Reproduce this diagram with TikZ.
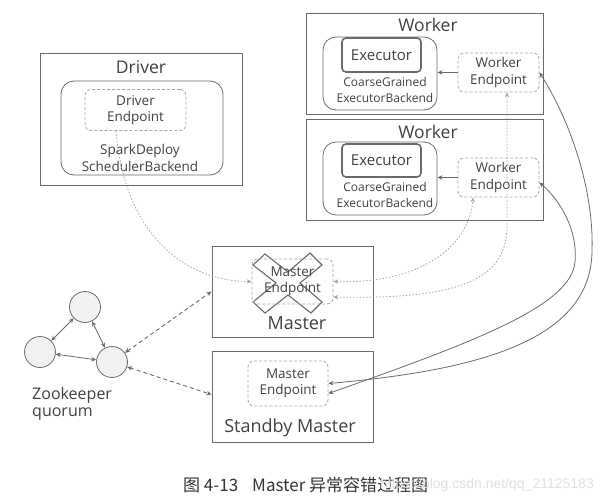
\documentclass[tikz,border=0pt]{standalone}
\usepackage{fontspec}
\setmainfont{Open Sans}
\newfontfamily\cjk{Noto Sans CJK SC}
\newfontfamily\wmfont{Liberation Sans}
\usetikzlibrary{arrows.meta}
\definecolor{ln}{HTML}{6A6A6A}
\definecolor{tx}{HTML}{404040}
\definecolor{dl}{HTML}{A6A6A6}
\newcommand\myfs[2]{\fontsize{#1}{#2}\selectfont}
\begin{document}
\begin{tikzpicture}[x=1pt,y=-1pt,
  every node/.style={text=tx, inner sep=0pt, align=center},
  outer/.style={draw=ln, line width=1pt, rectangle},
  innerr/.style={draw=ln, line width=0.8pt, rounded corners=13pt, rectangle},
  execbox/.style={draw=ln, line width=1.6pt, rounded corners=4pt, rectangle, font=\myfs{15}{18}},
  dbox/.style={draw=dl, line width=0.8pt, dash pattern=on 3pt off 2pt, rounded corners=6pt, rectangle},
  ttl/.style={font=\myfs{17.5}{20}},
  small/.style={font=\myfs{12}{16}},
  mid/.style={font=\myfs{13.5}{16.5}},
  zk/.style={circle, draw=ln, fill=gray!10, line width=0.8pt, minimum size=31pt},
  tip/.style={-{Stealth[length=5pt,width=4.5pt]}},
  dtip/.style={{Stealth[length=5pt,width=4.5pt]}-{Stealth[length=5pt,width=4.5pt]}},
  solidarr/.style={draw=ln, line width=0.8pt},
  dashedarr/.style={draw=ln, line width=0.9pt, dash pattern=on 4pt off 3pt},
  dottedarr/.style={draw=dl, line width=0.8pt, dash pattern=on 1.5pt off 1.8pt}
]
\useasboundingbox (0,0) rectangle (604,500);

% Driver
\node[outer, minimum width=202pt, minimum height=131pt] (drv) at (141,119.5) {};
\node[ttl] (drvt) at (141,67) {Driver};
\node[innerr, minimum width=162pt, minimum height=94pt] (drvin) at (142,128) {};
\node[dbox, minimum width=101pt, minimum height=41pt, mid] (de) at (135.5,110) {Driver\\Endpoint};
\node[mid] (sdb) at (140,158) {SparkDeploy\\SchedulerBackend};

% Worker 1
\node[outer, minimum width=237pt, minimum height=100pt] (w1) at (424.5,64) {};
\node[ttl] (w1t) at (428,25) {Worker};
\node[innerr, minimum width=114pt, minimum height=73pt] (w1in) at (380,73.5) {};
\node[execbox, minimum width=79pt, minimum height=34pt] (ex1) at (381.5,55) {Executor};
\node[small] (cg1) at (385,90) {CoarseGrained\\ExecutorBackend};
\node[dbox, minimum width=81pt, minimum height=39pt, mid] (we1) at (498.5,72.5) {Worker\\Endpoint};
\draw[solidarr, tip] (we1.west) -- (we1.west -| w1in.east);

% Worker 2
\node[outer, minimum width=237pt, minimum height=101pt] (w2) at (424.5,169.5) {};
\node[ttl] (w2t) at (428,132) {Worker};
\node[innerr, minimum width=114pt, minimum height=73pt] (w2in) at (380,178.5) {};
\node[execbox, minimum width=79pt, minimum height=33pt] (ex2) at (381.5,160.5) {Executor};
\node[small] (cg2) at (385,195) {CoarseGrained\\ExecutorBackend};
\node[dbox, minimum width=81pt, minimum height=39pt, mid] (we2) at (498.5,177.5) {Worker\\Endpoint};
\draw[solidarr, tip] (we2.west) -- (we2.west -| w2in.east);

% Master (failed)
\node[outer, minimum width=161pt, minimum height=91pt] (ms) at (292.5,291.5) {};
\draw[draw=ln, line width=1.1pt, line join=miter]
  (265,254) -- (288,272) -- (310,253) -- (322,265) -- (300,283) -- (322,302)
  -- (311,313) -- (288,295) -- (265,313) -- (253,302) -- (276,283) -- (253,265) -- cycle;
\node[dbox, minimum width=81pt, minimum height=45pt, mid] (me1) at (292.5,281.5) {Master\\Endpoint};
\node[font=\myfs{18}{21}] (mst) at (297,323) {Master};

% Standby Master
\node[outer, minimum width=161pt, minimum height=91pt] (sb) at (292.5,396.5) {};
\node[dbox, minimum width=80pt, minimum height=45pt, mid] (me2) at (288,383.5) {Master\\Endpoint};
\node[font=\myfs{18}{21}] (sbt) at (290,428) {Standby Master};

% Zookeeper
\node[zk] (zk1) at (85,307) {};
\node[zk] (zk2) at (40,352) {};
\node[zk] (zk3) at (112,362) {};
\node[font=\myfs{16}{17}, align=left, anchor=north west] (zkt) at (32,387) {Zookeeper\\quorum};
\draw[solidarr, dtip] (zk1) -- (zk2);
\draw[solidarr, dtip] (zk1) -- (zk3);
\draw[solidarr, dtip] (zk2) -- (zk3);
\draw[dashedarr, dtip] (zk3) -- (ms.west);
\draw[dashedarr, dtip] (zk3) -- ([yshift=2pt]sb.west);

% dotted connections
\draw[dottedarr, tip] ([xshift=-19.5pt]de.south) .. controls (125,240) and (190,281.5) .. (me1.west);
\draw[dottedarr, dtip] (me1.east) .. controls (430,284) and (470,240) .. ([xshift=-25.5pt]we2.south);
\draw[dottedarr, dtip] ([yshift=-15.5pt]me1.east) .. controls (470,300) and (507,275) .. (507,225) -- ([xshift=8.5pt]we1.south);

% solid long curves
\draw[solidarr, dtip] ([yshift=-5pt]we2.east) .. controls (560,200) and (578,230) .. (575,262)
   .. controls (571,305) and (480,340) .. ([yshift=-10pt]me2.east);
\draw[solidarr, dtip] (we1.east) .. controls (570,120) and (594,190) .. (592,250)
   .. controls (592,340) and (480,370) .. (me2.east);

% caption
\node[font=\cjk\myfs{17}{20}, text=black!80, anchor=west] (cap) at (183,485) {图 4-13\hspace{14pt}Master 异常容错过程图};
\node[font=\wmfont\myfs{14}{16}, text=gray!25, anchor=east] (wm) at (594,485) {https://blog.csdn.net/qq\_21125183};
\end{tikzpicture}
\end{document}
